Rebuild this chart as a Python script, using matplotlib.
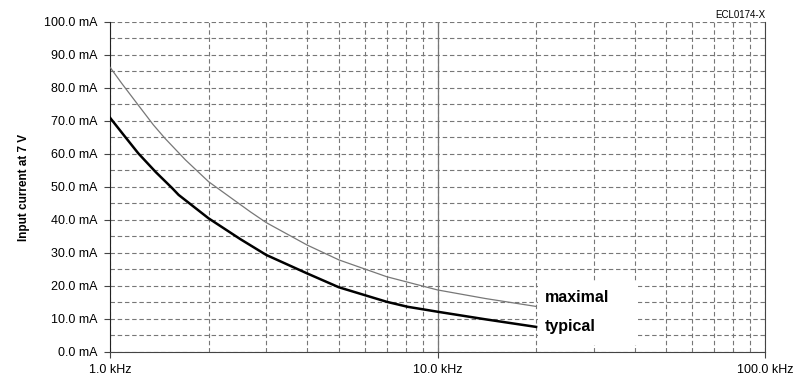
import numpy as np
import matplotlib
matplotlib.use('Agg')
import matplotlib.pyplot as plt
from matplotlib.ticker import FixedLocator, NullFormatter

plt.rcParams['font.family'] = ['Liberation Sans', 'DejaVu Sans']

# frequency in kHz, current in mA
freq_typ = [1.0, 1.1, 1.22, 1.38, 1.55, 1.62, 2.0, 2.5, 3.0, 4.0, 5.0, 7.0, 8.1, 10.0, 14.0, 20.0]
cur_typ = [71.0, 65.8, 60.2, 54.5, 49.6, 47.6, 40.5, 34.2, 29.4, 23.8, 19.6, 15.2, 13.7, 12.2, 9.9, 7.6]
freq_max = [1.0, 1.086, 1.22, 1.357, 1.473, 1.7, 2.0, 2.68, 3.0, 4.0, 5.0, 7.0, 10.0, 14.0, 20.0]
cur_max = [86.3, 81.4, 74.8, 68.8, 64.7, 58.2, 51.6, 42.5, 39.2, 32.4, 27.9, 22.8, 18.8, 16.2, 13.8]
y_ticks = [0, 10, 20, 30, 40, 50, 60, 70, 80, 90, 100]
x_ticks = [1, 10, 100]
x_labels = ['1.0 kHz', '10.0 kHz', '100.0 kHz']

fig = plt.figure(figsize=(8.07, 3.83), dpi=100)
ax = fig.add_axes([0.1363, 0.081, 0.948 - 0.1363, 0.9426 - 0.081])

ax.set_xscale('log')
ax.set_xlim(1, 100)
ax.set_ylim(0, 100)

# grid
minor_x = [m * d for d in (1, 10) for m in range(2, 10)]
ax.xaxis.set_minor_locator(FixedLocator(minor_x))
ax.xaxis.set_minor_formatter(NullFormatter())
ax.yaxis.set_minor_locator(FixedLocator(np.arange(5, 100, 10)))
ax.set_axisbelow(True)
ax.grid(which='both', axis='both', color='#777777', linestyle=(0, (4, 2.5)), linewidth=0.8)
ax.axvline(10, color='#777777', linewidth=0.9, zorder=1.5)
ax.tick_params(which='minor', length=0)

# white box behind the labels
ax.fill_between([20.2, 41], 2.1, 20.9, color='white', zorder=1.2, linewidth=0)

ax.plot(freq_max, cur_max, color='#777777', linewidth=0.9, zorder=3)
ax.plot(freq_typ, cur_typ, color='black', linewidth=1.8, zorder=3)

ax.text(21.2, 16.5, 'maximal', fontsize=11.5, fontweight='bold', va='center', zorder=4)
ax.text(21.2, 7.8, 'typical', fontsize=11.5, fontweight='bold', va='center', zorder=4)

ax.set_yticks(y_ticks)
ax.set_yticklabels(['%.1f mA' % v for v in y_ticks], fontsize=9)
ax.set_xticks(x_ticks)
ax.set_xticklabels(x_labels, fontsize=9)
ax.tick_params(which='major', length=4, width=0.8, color='#444444', pad=5)

ax.set_ylabel('Input current at 7 V', fontsize=8.5, fontweight='bold', labelpad=10)

ax.spines['top'].set_visible(False)
ax.spines['left'].set_color('#222222')
ax.spines['bottom'].set_color('#444444')
ax.spines['right'].set_color('#444444')

fig.text(0.949, 0.962, 'ECL0174-X', fontsize=7, ha='right', va='center')

fig.savefig('out.png', dpi=100)
